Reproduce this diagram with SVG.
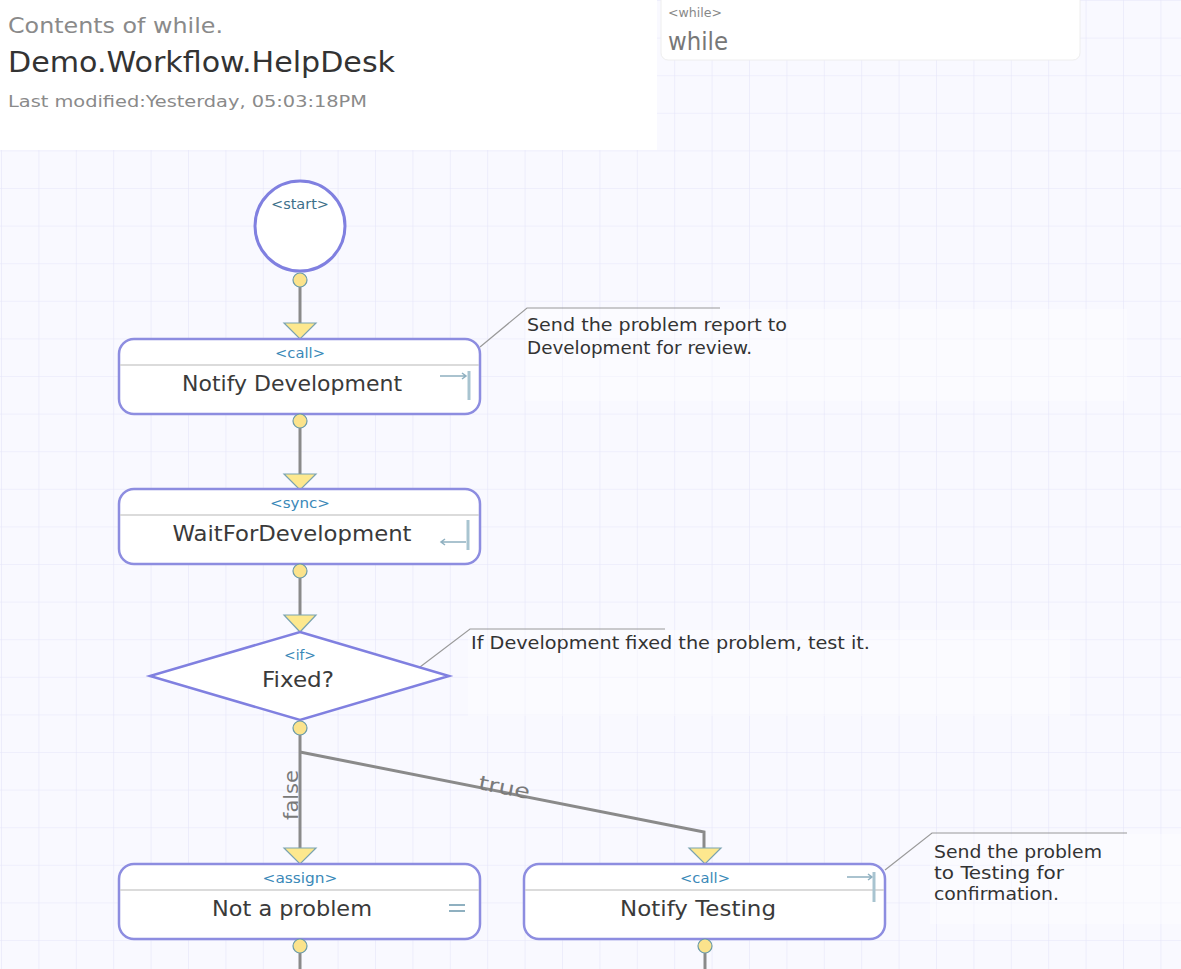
<svg xmlns="http://www.w3.org/2000/svg" width="1181" height="969" viewBox="0 0 1181 969">
<defs>
<pattern id="grid" x="1" y="0" width="37.4" height="37.6" patternUnits="userSpaceOnUse">
<rect width="37.4" height="37.6" fill="#f9f9ff"/>
<path d="M0 0V37.6M0 0H37.4" stroke="#e6e6fa" stroke-width="1.2" fill="none"/>
</pattern>
</defs>
<style>
.conn{stroke:#8a8a8a;stroke-width:3;fill:none}
.port{fill:#fbe38c;stroke:#6a9aa8;stroke-width:1.2}
.arr{fill:#fde88e;stroke:#7aa3b0;stroke-width:1.2}
.box{fill:#ffffff;stroke:#8d8de0;stroke-width:2.5}
.div{stroke:#cfcfcf;stroke-width:1.5}
.type{font-family:"DejaVu Sans Condensed","DejaVu Sans",sans-serif;font-size:14px;fill:#3a88b8;text-anchor:middle}
.lbl{font-family:"DejaVu Sans",sans-serif;font-size:21px;fill:#3a3a3a;text-anchor:middle}
.cmt{font-family:"DejaVu Sans Condensed","DejaVu Sans",sans-serif;font-size:17px;fill:#333}
.lead{stroke:#9a9a9a;stroke-width:1.2;fill:none}
.icon{stroke:#8fb0c0;stroke-width:1.5;fill:none}
.cbg{fill:#ffffff;opacity:0.4}
</style>
<rect width="1181" height="969" fill="url(#grid)"/>
<g id="header">
<rect x="0" y="0" width="657" height="150" fill="#ffffff"/>
<text x="8" y="33" font-family="DejaVu Sans,sans-serif" font-size="22" fill="#8a8a8a" textLength="215" lengthAdjust="spacingAndGlyphs">Contents of while.</text>
<text x="8" y="72" font-family="DejaVu Sans,sans-serif" font-size="29" fill="#333" textLength="387" lengthAdjust="spacingAndGlyphs">Demo.Workflow.HelpDesk</text>
<text x="8" y="107" font-family="DejaVu Sans Condensed,DejaVu Sans,sans-serif" font-size="16" fill="#8a8a8a" textLength="359" lengthAdjust="spacingAndGlyphs">Last modified:Yesterday, 05:03:18PM</text>
</g>
<g id="while-box">
<rect x="661" y="-8" width="419" height="68" rx="7" fill="#ffffff" stroke="#eeeeee" stroke-width="1"/>
<text x="668" y="17" font-family="DejaVu Sans,sans-serif" font-size="12" fill="#888" textLength="54" lengthAdjust="spacingAndGlyphs">&lt;while&gt;</text>
<text x="668" y="50" font-family="DejaVu Sans Condensed,DejaVu Sans,sans-serif" font-size="24" fill="#777" textLength="60" lengthAdjust="spacingAndGlyphs">while</text>
</g>
<g id="comments">
<rect class="cbg" x="525" y="309" width="602" height="92"/>
<rect class="cbg" x="468" y="630" width="602" height="86"/>
<rect class="cbg" x="930" y="834" width="251" height="90"/>
<path class="lead" d="M480 347L527 308H720"/>
<text class="cmt" x="527" y="331" textLength="260" lengthAdjust="spacingAndGlyphs">Send the problem report to</text>
<text class="cmt" x="527" y="354" textLength="225" lengthAdjust="spacingAndGlyphs">Development for review.</text>
<path class="lead" d="M420 667L470 629H665"/>
<text class="cmt" x="471" y="649" textLength="399" lengthAdjust="spacingAndGlyphs">If Development fixed the problem, test it.</text>
<path class="lead" d="M885 870L932 833H1127"/>
<text class="cmt" x="934" y="858" textLength="168" lengthAdjust="spacingAndGlyphs">Send the problem</text>
<text class="cmt" x="934" y="879" textLength="130" lengthAdjust="spacingAndGlyphs">to Testing for</text>
<text class="cmt" x="934" y="900" textLength="125" lengthAdjust="spacingAndGlyphs">confirmation.</text>
</g>
<g id="connectors">
<path class="conn" d="M300 287V324"/>
<path class="conn" d="M300 428V476"/>
<path class="conn" d="M300 578V616"/>
<path class="conn" d="M300 735V848"/>
<path class="conn" d="M300 752L704 832V849"/>
<path class="conn" d="M300 953V969"/>
<path class="conn" d="M705 953V969"/>
<text x="298" y="795" transform="rotate(-90 298 795)" text-anchor="middle" font-family="DejaVu Sans,sans-serif" font-size="19" fill="#7a7a7a" textLength="50" lengthAdjust="spacingAndGlyphs">false</text>
<text x="503" y="794" transform="rotate(11.2 503 794)" text-anchor="middle" font-family="DejaVu Sans,sans-serif" font-size="20" fill="#7a7a7a" textLength="52" lengthAdjust="spacingAndGlyphs">true</text>
</g>
<g id="start">
<circle cx="300" cy="226" r="45" fill="#ffffff" stroke="#8080e0" stroke-width="3"/>
<text class="type" x="300" y="209" style="fill:#3d6f8a" textLength="58" lengthAdjust="spacingAndGlyphs">&lt;start&gt;</text>
<circle class="port" cx="300" cy="280" r="7"/>
</g>
<g id="notify-development">
<path class="arr" d="M284 323H316L300 339Z"/>
<rect class="box" x="119" y="339" width="361" height="75" rx="15"/>
<line class="div" x1="120" y1="365" x2="479" y2="365"/>
<text class="type" x="300" y="358" textLength="50" lengthAdjust="spacingAndGlyphs">&lt;call&gt;</text>
<text class="lbl" x="292" y="391" textLength="220" lengthAdjust="spacingAndGlyphs">Notify Development</text>
<path class="icon" d="M440 376H466M462 373L466 376L462 379"/>
<path d="M469 371V400" stroke="#a8c4d0" stroke-width="3"/>
<circle class="port" cx="300" cy="421" r="7"/>
</g>
<g id="wait-for-development">
<path class="arr" d="M284 474H316L300 490Z"/>
<rect class="box" x="119" y="489" width="361" height="75" rx="15"/>
<line class="div" x1="120" y1="515" x2="479" y2="515"/>
<text class="type" x="300" y="508" textLength="60" lengthAdjust="spacingAndGlyphs">&lt;sync&gt;</text>
<text class="lbl" x="292" y="541" textLength="239" lengthAdjust="spacingAndGlyphs">WaitForDevelopment</text>
<path class="icon" d="M441 542H466M445 539L441 542L445 545"/>
<path d="M468 520V550" stroke="#a8c4d0" stroke-width="3"/>
<circle class="port" cx="300" cy="571" r="7"/>
</g>
<g id="fixed">
<path class="arr" d="M284 615H316L300 632Z"/>
<path d="M300 632L449 676L300 720L150 676Z" fill="#ffffff" stroke="#8080e0" stroke-width="2.5"/>
<text class="type" x="300" y="660" textLength="32" lengthAdjust="spacingAndGlyphs">&lt;if&gt;</text>
<text class="lbl" x="298" y="687" textLength="72" lengthAdjust="spacingAndGlyphs">Fixed?</text>
<circle class="port" cx="300" cy="728" r="7"/>
</g>
<g id="not-a-problem">
<path class="arr" d="M284 848H316L300 864Z"/>
<rect class="box" x="119" y="864" width="361" height="75" rx="15"/>
<line class="div" x1="120" y1="890" x2="479" y2="890"/>
<text class="type" x="300" y="883" textLength="75" lengthAdjust="spacingAndGlyphs">&lt;assign&gt;</text>
<text class="lbl" x="292" y="916" textLength="160" lengthAdjust="spacingAndGlyphs">Not a problem</text>
<path d="M449 905H465M449 911H465" stroke="#8fb0c0" stroke-width="2"/>
<circle class="port" cx="300" cy="946" r="7"/>
</g>
<g id="notify-testing">
<path class="arr" d="M689 848H721L705 864Z"/>
<rect class="box" x="524" y="864" width="361" height="75" rx="15"/>
<line class="div" x1="525" y1="890" x2="884" y2="890"/>
<text class="type" x="705" y="883" textLength="50" lengthAdjust="spacingAndGlyphs">&lt;call&gt;</text>
<text class="lbl" x="698" y="916" textLength="156" lengthAdjust="spacingAndGlyphs">Notify Testing</text>
<path class="icon" d="M847 877H872M868 874L872 877L868 880"/>
<path d="M874 872V902" stroke="#a8c4d0" stroke-width="3"/>
<circle class="port" cx="705" cy="946" r="7"/>
</g>
</svg>
